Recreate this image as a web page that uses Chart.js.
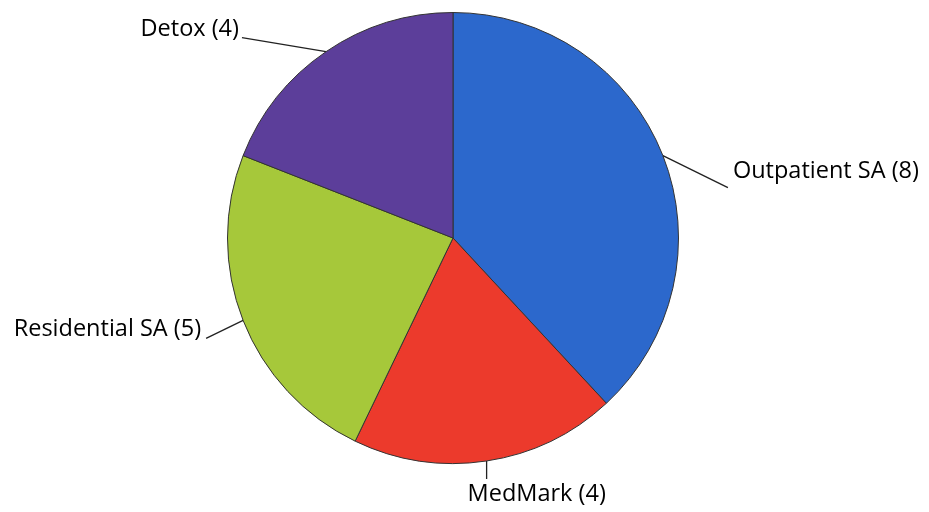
<!DOCTYPE html>
<html>
<head>
<meta charset="utf-8">
<script src="https://cdn.jsdelivr.net/npm/chart.js@4"></script>
<style>
  html, body { margin: 0; padding: 0; background: #fff; }
  #wrap { width: 929px; height: 512px; }
</style>
</head>
<body>
<div id="wrap"><canvas id="pieChart"></canvas></div>
<script>
const labels = ["Outpatient SA", "MedMark", "Residential SA", "Detox"];
const counts = [8, 4, 5, 4];
const innerColors = ["#2c68cc", "#ec3a2c", "#a6c83a", "#5c3e9a"];
const outerColors = ["#1f4ea8", "#c42a20", "#8aa82a", "#462a7c"];

// leader line end (relative to slice edge) and text anchor (relative to line end)
const leaderEnds = [[65, 32], [0, 18], [-37, 18], [-84, -14]];
const textSpots = [[5, -16, "left"], [-19, 15, "left"], [-5, -9, "right"], [-3, -8, "right"]];

function sliceGradient(context) {
  const chart = context.chart;
  const arc = chart.getDatasetMeta(0).data[context.dataIndex];
  if (!arc || !arc.outerRadius) return innerColors[context.dataIndex];
  const g = chart.ctx.createRadialGradient(arc.x, arc.y, 0, arc.x, arc.y, arc.outerRadius);
  g.addColorStop(0, innerColors[context.dataIndex]);
  g.addColorStop(0.88, innerColors[context.dataIndex]);
  g.addColorStop(1, outerColors[context.dataIndex]);
  return g;
}

const leaderLabels = {
  id: "leaderLabels",
  afterDatasetsDraw(chart) {
    const ctx = chart.ctx;
    const meta = chart.getDatasetMeta(0);
    ctx.save();
    ctx.font = "500 23.5px 'Open Sans', Lato, sans-serif";
    ctx.textBaseline = "middle";
    meta.data.forEach((arc, i) => {
      const mid = (arc.startAngle + arc.endAngle) / 2;
      const sx = arc.x + Math.cos(mid) * arc.outerRadius;
      const sy = arc.y + Math.sin(mid) * arc.outerRadius;
      const ex = sx + leaderEnds[i][0];
      const ey = sy + leaderEnds[i][1];
      ctx.strokeStyle = "#222";
      ctx.lineWidth = 1.3;
      ctx.beginPath();
      ctx.moveTo(sx, sy);
      ctx.lineTo(ex, ey);
      ctx.stroke();
      ctx.fillStyle = "#000";
      ctx.textAlign = textSpots[i][2];
      ctx.fillText(labels[i] + " (" + counts[i] + ")", ex + textSpots[i][0], ey + textSpots[i][1]);
    });
    ctx.restore();
  }
};

new Chart(document.getElementById("pieChart"), {
  type: "pie",
  data: {
    labels: labels,
    datasets: [{
      data: counts,
      backgroundColor: sliceGradient,
      borderColor: "#333",
      borderWidth: 1
    }]
  },
  options: {
    responsive: true,
    maintainAspectRatio: false,
    animation: false,
    layout: { padding: { top: 12, bottom: 48, left: 0, right: 23 } },
    plugins: {
      legend: { display: false },
      tooltip: { enabled: false }
    }
  },
  plugins: [leaderLabels]
});
</script>
</body>
</html>
